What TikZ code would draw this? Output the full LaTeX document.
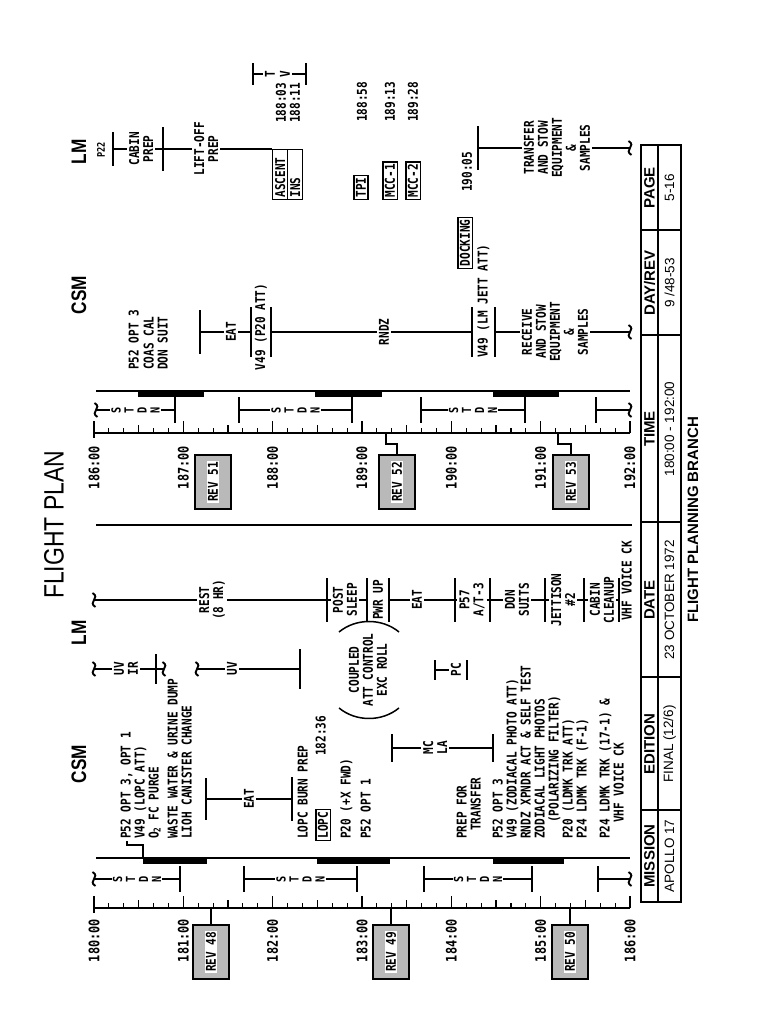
\documentclass[tikz,border=0pt]{standalone}
\usepackage{fontspec}
\setmainfont{Liberation Sans}
\newfontfamily\typw{DejaVu Sans Mono}[FakeStretch=0.82]
\newfontfamily\hdrf{Liberation Sans}[FakeStretch=0.82]
\setlength{\fboxsep}{1pt}
\begin{document}
\begin{tikzpicture}[
    x=1pt, y=1pt,
    act/.style={font=\typw\bfseries\fontsize{13.5}{14}\selectfont, inner sep=2pt},
    actl/.style={act, anchor=west, text height=9.5pt, text depth=2.5pt},
    hrlbl/.style={font=\typw\bfseries\fontsize{14.5}{15}\selectfont, inner sep=0pt, anchor=east},
    stdn/.style={font=\typw\bfseries\fontsize{12.5}{12.5}\selectfont, inner sep=1pt},
    colhdr/.style={font=\hdrf\bfseries\fontsize{21}{21}\selectfont, inner sep=0pt},
    evbox/.style={act, draw, line width=1.2pt, inner sep=2pt},
    revbox/.style={act, draw, line width=1.4pt, fill=gray!55, minimum width=54pt, minimum height=36pt, inner sep=0pt},
    xb/.style={inner sep=0pt, outer sep=0pt, minimum width=#1,
        append after command={(\tikzlastnode.west) edge[line width=1.5pt] (\tikzlastnode.east)}},
    xb/.default=44pt,
    xbb/.style={inner sep=0pt, outer sep=0pt, minimum width=#1,
        append after command={(\tikzlastnode.west) edge[line width=2.6pt] (\tikzlastnode.east)}},
    tl/.style={line width=1.5pt},
    axis/.style={line width=1.8pt},
    tick/.style={line width=1.2pt},
    wave/.pic={\draw[line width=1.9pt] (-7,1.5) .. controls (-2,-7) and (2,7) .. (7,-1.5);}
]
\useasboundingbox (0,0) rectangle (772,1024);
\fill[white] (0,0) rectangle (772,1024);

% the sheet is set sideways: (U,D) = (across, down the page)
\begin{scope}[rotate=90, transform shape, y=-1pt]

% Title and column heads
\node[font=\hdrf\fontsize{28}{28}\selectfont, inner sep=0pt] (title) at (499,54) {FLIGHT PLAN};
\node[colhdr] (csm1) at (260,79) {CSM};
\node[colhdr] (lm1) at (391,79) {LM};
\node[colhdr] (csm2) at (729,79) {CSM};
\node[colhdr] (lm2) at (872,79) {LM};

% Time scale 180:00 - 186:00
\coordinate (a1s) at (116,94);
\coordinate (a1e) at (116,630);
\draw[axis] (a1s) -- (a1e);
\draw[tick] (a1s) -- ++(-5,0);
\foreach \i in {0,...,36}{
  \pgfmathsetmacro{\tk}{mod(\i,6)==0 ? 12 : (mod(\i,3)==0 ? 8 : 5)}
  \draw[tick] (116,94+\i*14.889) -- ++(\tk,0);
}
\foreach \h in {0,...,6}{
  \pgfmathtruncatemacro{\hh}{180+\h}
  \node[hrlbl] (ha\h) at (105,94+\h*89.33) {\hh:00};
}
\foreach \n/\d in {48/211, 49/391, 50/570}{
  \node[revbox] (rev\n) at (72,\d) {\colorbox{white}{REV \n}};
  \coordinate (r\n a) at (116,\d);
  \draw[tl] (r\n a) -- (rev\n);
}

% Time scale 186:00 - 192:00
\coordinate (a2s) at (591,94);
\coordinate (a2e) at (591,630);
\draw[axis] (a2s) -- (a2e);
\draw[tick] (a2s) -- ++(-5,0);
\foreach \i in {0,...,36}{
  \pgfmathsetmacro{\tk}{mod(\i,6)==0 ? 12 : (mod(\i,3)==0 ? 8 : 5)}
  \draw[tick] (591,94+\i*14.889) -- ++(\tk,0);
}
\foreach \h in {0,...,6}{
  \pgfmathtruncatemacro{\hh}{186+\h}
  \node[hrlbl] (hb\h) at (578,94+\h*89.33) {\hh:00};
}
\node[revbox] (rev51) at (542,213) {\colorbox{white}{REV 51}};
\node[revbox] (rev52) at (542,397) {\colorbox{white}{REV 52}};
\node[revbox] (rev53) at (542,571) {\colorbox{white}{REV 53}};
\coordinate (r51a) at (591,205);
\coordinate (r52a) at (591,386);
\coordinate (r53a) at (591,558);
\draw[tl] (r51a) -- (r51a |- rev51.east);
\draw[tl] (r52a) -- ++(-11,0) -- ++(0,11) -- (rev52.east);
\draw[tl] (r53a) -- ++(-11,0) -- ++(0,13) -- (rev53.east);

% Day / night lines
\draw[axis] (166,96) -- (166,630);
\draw[axis] (633,96) -- (633,630);
\foreach \a/\b in {143/207, 317/390, 493/564}
  \fill (160,\a) rectangle (166,\b);
\foreach \a/\b in {138/204, 315/382, 493/559}
  \fill (627,\a) rectangle (633,\b);

% Separator
\draw[line width=1.8pt] (499,96) -- (499,632);

% STDN coverage
\foreach \a/\b/\u/\k in {94/180/145/1, 244/357/145/2, 424/532/145/3, 96/175/614/4, 239/352/614/5, 421/525/614/6}{
  \pgfmathsetmacro{\c}{(\a+\b)/2}
  \coordinate (sa\k) at (\u,\a);
  \coordinate (sb\k) at (\u,\b);
  \node[stdn] (ss\k) at (\u,\c-19.5) {S};
  \node[stdn] (st\k) at (\u,\c-6.5) {T};
  \node[stdn] (sd\k) at (\u,\c+6.5) {D};
  \node[stdn] (sn\k) at (\u,\c+19.5) {N};
  \draw[tl] (sa\k) -- (ss\k);
  \draw[tl] (sn\k) -- (sb\k);
  \draw[tl] (\u-13,\b) -- (\u+13,\b);
}
\foreach \a/\u in {244/145, 424/145, 239/614, 421/614}
  \draw[tl] (\u-13,\a) -- (\u+13,\a);
\pic at (sa1) {wave};
\pic at (sa4) {wave};
\coordinate (se1) at (145,598);
\coordinate (sf1) at (145,630);
\coordinate (se2) at (614,596);
\coordinate (sf2) at (614,630);
\draw[tl] (132,598) -- (158,598);
\draw[tl] (601,596) -- (627,596);
\draw[tl] (se1) -- (sf1);
\draw[tl] (se2) -- (sf2);
\pic at (sf1) {wave};
\pic at (sf2) {wave};

% CSM, first half
\node[actl] (p52a) at (183,127) {P52 OPT 3, OPT 1};
\node[actl] (v49a) at (183,141) {V49 (LOPC ATT)};
\node[actl] (o2p) at (183,155) {O\textsubscript{2} FC PURGE};
\node[actl] (wwd) at (183,174) {WASTE WATER \& URINE DUMP};
\node[actl] (lioh) at (183,188) {LIOH CANISTER CHANGE};
\draw[tl] (166,143) -- (179,143) -- (179,127) -- (p52a.west);

\node[xb=42pt] (e1a) at (225,206) {};
\node[act] (eat1) at (225,249) {EAT};
\node[xb=44pt] (e1b) at (225,292) {};
\draw[tl] (e1a) -- (eat1) -- (e1b);

\node[actl] (lbp) at (183,304) {LOPC BURN PREP};
\node[evbox, anchor=west] (lopc) at (183,323) {LOPC};
\node[actl] (t1836) at (266,322) {182:36};
\node[actl] (p20a) at (183,347) {P20 (+X FWD)};
\node[actl] (p52b) at (183,367) {P52 OPT 1};

\node[xb=28pt] (ml1) at (276,392) {};
\node[act, align=center] (mcla) at (276,435) {MC\\LA};
\node[xb=28pt] (ml2) at (276,493) {};
\draw[tl] (ml1) -- (mcla) -- (ml2);

\node[actl] (prep) at (183,463) {PREP FOR};
\node[actl] (trans) at (191,477) {TRANSFER};
\node[actl] (p52c) at (183,499) {P52 OPT 3};
\node[actl] (v49b) at (183,513) {V49 (ZODIACAL PHOTO ATT)};
\node[actl] (xpndr) at (183,527) {RNDZ XPNDR ACT \& SELF TEST};
\node[actl] (zodi) at (183,541) {ZODIACAL LIGHT PHOTOS};
\node[actl] (polf) at (199,555) {(POLARIZING FILTER)};
\node[actl] (p20b) at (183,569) {P20 (LDMK TRK ATT)};
\node[actl] (p24a) at (183,583) {P24 LDMK TRK (F-1)};
\node[actl] (p24b) at (183,606) {P24 LDMK TRK (17-1) \&};
\node[actl] (vhf1) at (199,620) {VHF VOICE CK};

% LM, first half
\coordinate (wa1) at (355,94);
\node[act, align=center] (uvir) at (355,126) {UV\\IR};
\node[xb=30pt] (ua1) at (355,156) {};
\coordinate (wa2) at (355,164);
\draw[tl] (wa1) -- (uvir) -- (ua1) -- (wa2);
\pic at (wa1) {wave};
\pic at (wa2) {wave};
\coordinate (wa3) at (355,197);
\node[act] (uv2) at (355,232) {UV};
\node[xb=40pt] (ua2) at (355,300) {};
\draw[tl] (wa3) -- (uv2) -- (ua2);
\pic at (wa3) {wave};

\node[act, align=center] (cpl) at (354,368) {COUPLED\\ATT CONTROL\\EXC ROLL};
\draw[tl] (316,339) .. controls (302,356) and (302,382) .. (316,399);
\draw[tl] (392,339) .. controls (406,356) and (406,382) .. (392,399);

\node[xb=20pt] (pc1) at (354,435) {};
\node[act] (pc) at (354,456) {PC};
\node[xb=20pt] (pc2) at (354,467) {};
\draw[tl] (pc1) -- (pc);

\coordinate (wb1) at (424,94);
\node[act, align=center] (rest) at (424,212) {REST\\(8 HR)};
\node[xb] (lb1) at (424,327) {};
\node[act, align=center] (post) at (424,345) {POST\\SLEEP};
\node[xb] (lb2) at (424,367) {};
\node[act] (pwr) at (424,378) {PWR UP};
\node[xb] (lb3) at (424,389) {};
\node[act] (eat2) at (424,417) {EAT};
\node[xb] (lb4) at (424,455) {};
\node[act, align=center] (p57) at (424,472) {P57\\A/T-3};
\node[xb] (lb5) at (424,490) {};
\node[act, align=center] (dons) at (424,517) {DON\\SUITS};
\node[xb] (lb6) at (424,545) {};
\node[act, align=center] (jett) at (424,563) {JETTISON\\\#2};
\node[xb] (lb7) at (424,584) {};
\node[act, align=center] (cabc) at (424,602) {CABIN\\CLEANUP};
\node[xb] (lb8) at (424,619) {};
\node[actl] (vhf2) at (401,628) {VHF VOICE CK};
\draw[tl] (wb1) -- (rest) -- (lb1) -- (post) -- (lb2);
\draw[tl] (lb3) -- (eat2) -- (lb4) -- (p57) -- (lb5) -- (dons) -- (lb6) -- (jett) -- (lb7) -- (cabc) -- (lb8);
\pic at (wb1) {wave};

% CSM, second half
\node[actl] (p52d) at (652,135) {P52 OPT 3};
\node[actl] (coas) at (652,150) {COAS CAL};
\node[actl] (dsuit) at (652,164) {DON SUIT};
\node[xb] (cb1) at (692,200) {};
\node[act] (eat3) at (692,231) {EAT};
\node[xb=50pt] (cb2) at (692,251) {};
\node[act] (v49c) at (697,261) {V49 (P20 ATT)};
\node[xb=50pt] (cb3) at (692,271) {};
\node[act] (rndz) at (692,384) {RNDZ};
\node[xb=50pt] (cb4) at (692,472) {};
\node[actl] (v49d) at (664,484) {V49 (LM JETT ATT)};
\node[xb=50pt] (cb5) at (692,495) {};
\node[act, align=center] (recv) at (692,555) {RECEIVE\\AND STOW\\EQUIPMENT\\\&\\SAMPLES};
\coordinate (wc1) at (692,630);
\draw[tl] (cb1) -- (eat3) -- (cb2);
\draw[tl] (cb3) -- (rndz) -- (cb4);
\draw[tl] (cb5) -- (recv) -- (wc1);
\pic at (wc1) {wave};
\node[evbox] (dock) at (781,465) {DOCKING};

% LM, second half
\node[font=\typw\bfseries\fontsize{10.5}{10.5}\selectfont, inner sep=1pt] (p22) at (874,101) {P22};
\node[xb=34pt] (lc1) at (875,113) {};
\node[act, align=center] (cabp) at (875,141) {CABIN\\PREP};
\node[xb] (lc2) at (875,163) {};
\node[act, align=center] (lift) at (875,206) {LIFT-OFF\\PREP};
\node[evbox, anchor=north east, text width=46pt, minimum height=15pt, align=left] (asc) at (875,272) {ASCENT};
\node[evbox, anchor=north east, text width=46pt, minimum height=15pt, align=left] (ins) at (875,287) {INS};
\draw[tl] (lc1) -- (cabp) -- (lc2) -- (lift) -- (asc.north east);

\node[act, align=center] (t0311) at (921,288) {188:03\\188:11};
\node[xbb=22pt] (tv1) at (950,253) {};
\node[act] (tvt) at (950,270) {T};
\node[act] (tvv) at (950,285) {V};
\node[xbb=22pt] (tv2) at (950,306) {};
\draw[tl] (tv1) -- (tvt);
\draw[tl] (tvv) -- (tv2);

\node[evbox, anchor=west] (tpi) at (824,361) {TPI};
\node[act] (t58) at (922,362) {188:58};
\node[evbox, anchor=west] (mcc1) at (824,390) {MCC-1};
\node[act] (t13) at (922,390) {189:13};
\node[evbox, anchor=west] (mcc2) at (824,413) {MCC-2};
\node[act] (t28) at (922,413) {189:28};

\node[act] (t05) at (852,467) {190:05};
\node[xb] (lc3) at (876,478) {};
\node[act, align=center] (xfer) at (876,557) {TRANSFER\\AND STOW\\EQUIPMENT\\\&\\SAMPLES};
\coordinate (wd1) at (876,630);
\draw[tl] (lc3) -- (xfer) -- (wd1);
\pic at (wd1) {wave};

% Title block
\draw[line width=1.8pt] (122,641) rectangle (879,681);
\draw[line width=1.4pt] (122,658) -- (879,658);
\foreach \u in {214,347,502,689,794}
  \draw[line width=1.4pt] (\u,641) -- (\u,681);
\foreach \u/\h/\v [count=\k] in {168/MISSION/{APOLLO 17}, 280/EDITION/{FINAL (12/6)},
    424/DATE/{23 OCTOBER 1972}, 595/TIME/{180:00 - 192:00}, 741/{DAY/REV}/{9 /48-53}, 836/PAGE/{5-16}}{
  \node[font=\bfseries\fontsize{15}{15}\selectfont, inner sep=0pt] (tbh\k) at (\u,649.5) {\h};
  \node[font=\fontsize{13.5}{14}\selectfont, inner sep=0pt] (tbv\k) at (\u,669.5) {\v};
}
\node[font=\bfseries\fontsize{15}{15}\selectfont, inner sep=0pt] (fpb) at (504,693) {FLIGHT PLANNING BRANCH};

\end{scope}
\end{tikzpicture}
\end{document}
